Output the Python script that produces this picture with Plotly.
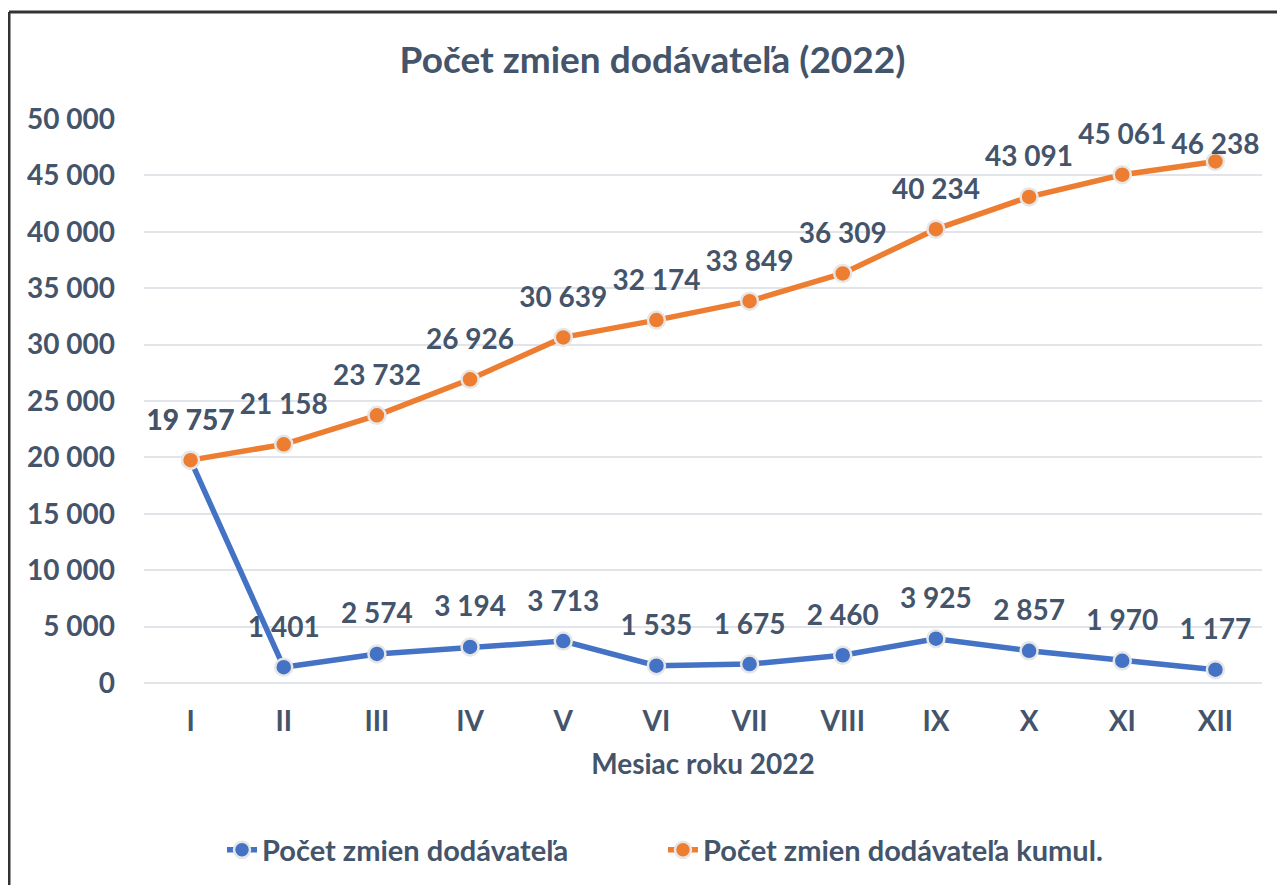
import plotly.graph_objects as go

months = ["I", "II", "III", "IV", "V", "VI", "VII", "VIII", "IX", "X", "XI", "XII"]
monthly = [19757, 1401, 2574, 3194, 3713, 1535, 1675, 2460, 3925, 2857, 1970, 1177]
cumulative = [19757, 21158, 23732, 26926, 30639, 32174, 33849, 36309, 40234, 43091, 45061, 46238]
series_names = ["Počet zmien dodávateľa", "Počet zmien dodávateľa kumul."]
title_text = "Počet zmien dodávateľa (2022)"
x_title = "Mesiac roku 2022"

TXT = "#44546A"
FONT = "Lato"
FS = 28
W, H = 1285, 885
OFF = 8  # page body margin
L, T = 144 - OFF, 119 - OFF
R = W - (1262 - OFF)
B = H - (683 - OFF)
pw, ph = W - L - R, H - T - B
Y_MAX = 50000

def px(x):
    return (x - OFF - L) / pw

def py(y):
    return (H - B - (y - OFF)) / ph

# data-label offset (invisible marker size); labels that would run past the top of the
# plot area are kept inside it, as the source chart does
LABEL_PAD = 36
label_room = (LABEL_PAD / 2 + 28) / ph * Y_MAX

def label_sizes(vals):
    return [LABEL_PAD if v + label_room <= Y_MAX else 0 for v in vals]

fig = go.Figure()
for name, vals, col in [(series_names[0], monthly, "#4472C4"), (series_names[1], cumulative, "#ED7D31")]:
    fig.add_trace(go.Scatter(
        x=months, y=vals, name=name, mode="lines+markers",
        line=dict(color=col, width=5.5),
        marker=dict(color=col, size=17, line=dict(color="#E6E6E6", width=2.5)),
        cliponaxis=False,
    ))
for name, vals in [(series_names[0], monthly), (series_names[1], cumulative)]:
    fig.add_trace(go.Scatter(
        x=months, y=vals, name=name, mode="markers+text", showlegend=False, hoverinfo="skip",
        marker=dict(size=label_sizes(vals), opacity=0),
        text=[f"{v:,}".replace(",", " ") for v in vals],
        textposition="top center",
        textfont=dict(family=FONT, size=FS, color=TXT, weight="bold"),
        cliponaxis=False,
    ))

fig.update_layout(
    width=W, height=H,
    margin=dict(l=L, r=R, t=T, b=B, autoexpand=False),
    paper_bgcolor="white", plot_bgcolor="white",
    separators=", ",
    title=dict(text=title_text, x=((400 + 905) / 2 - OFF) / W, xanchor="center",
               y=1 - (60 - OFF) / H, yanchor="middle",
               font=dict(family=FONT, size=37, color=TXT, weight="bold")),
    font=dict(family=FONT, color=TXT),
    showlegend=True,
    legend=dict(orientation="h", x=px(222), xanchor="left",
                y=py(850), yanchor="middle",
                font=dict(family=FONT, size=29, color=TXT, weight="bold"),
                itemsizing="trace", traceorder="normal",
                entrywidthmode="pixels", entrywidth=396),
    shapes=[
        dict(type="line", xref="paper", yref="paper", x0=px(9), x1=px(1300), y0=py(12), y1=py(12),
             line=dict(color="#333333", width=3)),
        dict(type="line", xref="paper", yref="paper", x0=px(9), x1=px(9), y0=py(12), y1=py(900),
             line=dict(color="#333333", width=3)),
    ],
)
fig.update_xaxes(
    type="category", range=[-0.5, 11.5], showgrid=False, showline=False, zeroline=False,
    automargin=False,
    tickfont=dict(family=FONT, size=FS, color=TXT, weight="bold"),
    ticks="", ticklabelstandoff=19,
    title=dict(text=x_title, standoff=18, font=dict(family=FONT, size=FS, color=TXT, weight="bold")),
)
fig.update_yaxes(
    range=[0, Y_MAX], dtick=5000, tickformat=",d", showgrid=True, gridcolor="#E1E5EA", gridwidth=2,
    zeroline=True, zerolinecolor="#E1E5EA", zerolinewidth=2, showline=False,
    automargin=False,
    tickfont=dict(family=FONT, size=FS, color=TXT, weight="bold"),
    ticks="", ticklabelstandoff=28,
)

fig.write_html("out.html")
